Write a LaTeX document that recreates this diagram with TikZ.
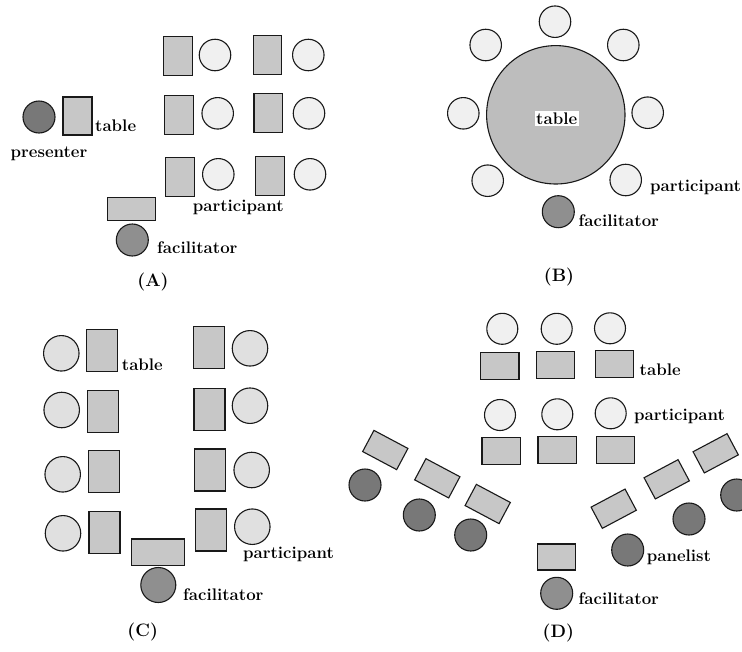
\documentclass[tikz,border=0pt]{standalone}
\definecolor{tablefill}{gray}{0.78}
\definecolor{partfill}{gray}{0.94}
\definecolor{partfillC}{gray}{0.88}
\definecolor{darkfill}{gray}{0.47}
\definecolor{facfill}{gray}{0.56}
\definecolor{bigfill}{gray}{0.74}
\definecolor{edge}{gray}{0.1}
\tikzset{
  tbl/.style={rectangle, draw=edge, line width=1.1pt, fill=tablefill, inner sep=0pt},
  tblA/.style={tbl, minimum width=28.7pt, minimum height=39pt},
  tblC/.style={tbl, minimum width=31pt, minimum height=42pt},
  tblD/.style={tbl, minimum width=38.5pt, minimum height=27pt},
  tblR/.style={tbl, minimum width=38.5pt, minimum height=24pt},
  seat/.style={circle, draw=edge, line width=1.1pt, inner sep=0pt},
  part/.style={seat, fill=partfill, minimum size=31.5pt},
  partC/.style={seat, fill=partfillC, minimum size=35.5pt},
  partD/.style={seat, fill=partfill, minimum size=31pt},
  dark/.style={seat, fill=darkfill, minimum size=32pt},
  fac/.style={seat, fill=facfill, minimum size=32pt},
  lbl/.style={font=\fontsize{16.8}{19}\selectfont\bfseries, inner sep=0pt},
  panelcap/.style={font=\fontsize{18}{21}\selectfont\bfseries, inner sep=0pt}
}
\begin{document}
\begin{tikzpicture}[x=1pt,y=-1pt]
\useasboundingbox[fill=white] (0,0) rectangle (742,651);

% ---------------- Panel A ----------------
\node[dark] (presenter) at (39,117) {};
\node[tbl, minimum width=29pt, minimum height=38pt] (presTable) at (77.5,116) {};
\node[lbl, anchor=west] (lblTableA) at (95,126) {table};
\node[lbl] (lblPresenter) at (49,154) {presenter};

\node[tblA] (a11) at (177.7,56.2) {};
\node[part] (pa11) at (215,55) {};
\node[tblA] (a12) at (267.5,54.8) {};
\node[part] (pa12) at (308.3,55) {};
\node[tblA] (a21) at (178.7,114.7) {};
\node[part] (pa21) at (217.7,113.3) {};
\node[tblA] (a22) at (268.3,113.2) {};
\node[part] (pa22) at (309,113.3) {};
\node[tblA] (a31) at (179.8,176.8) {};
\node[part] (pa31) at (218.3,174.3) {};
\node[tblA] (a32) at (269.7,175.7) {};
\node[part] (pa32) at (310,174.3) {};
\node[lbl] (lblPartA) at (238.3,207.3) {participant};

\node[tbl, minimum width=48pt, minimum height=23.4pt] (facTableA) at (131.3,209) {};
\node[fac] (facA) at (132.3,240) {};
\node[lbl, anchor=west] (lblFacA) at (157,248) {facilitator};
\node[panelcap] (capA) at (153,281.7) {(A)};

% ---------------- Panel B ----------------
\node[seat, fill=bigfill, minimum size=138.4pt] (bigTable) at (555.8,114.8) {};
\node[lbl, fill=white, inner sep=1.5pt] (lblTableB) at (556.7,118.3) {table};
\node[part] (pb1) at (555,21.7) {};
\node[part] (pb2) at (485.7,45) {};
\node[part] (pb3) at (623.3,45) {};
\node[part] (pb4) at (463.3,113.3) {};
\node[part] (pb5) at (647.7,112.7) {};
\node[part] (pb6) at (487.7,180.7) {};
\node[part] (pb7) at (625.7,180) {};
\node[fac] (facB) at (558.3,211.7) {};
\node[lbl, anchor=west] (lblPartB) at (650,187.3) {participant};
\node[lbl, anchor=west] (lblFacB) at (578.5,221) {facilitator};
\node[panelcap] (capB) at (559,276.7) {(B)};

% ---------------- Panel C ----------------
\node[partC] (pc1) at (61.3,353.3) {};
\node[partC] (pc2) at (61.7,410) {};
\node[partC] (pc3) at (62.7,474.3) {};
\node[partC] (pc4) at (63,533.3) {};
\node[tblC] (c1) at (102,350.3) {};
\node[tblC] (c2) at (102.8,411.3) {};
\node[tblC] (c3) at (103.8,471.3) {};
\node[tblC] (c4) at (104.5,532.5) {};
\node[lbl, anchor=west] (lblTableC) at (121.7,365) {table};
\node[tblC] (c5) at (208.7,347.8) {};
\node[tblC] (c6) at (209.5,409.5) {};
\node[tblC] (c7) at (210,470) {};
\node[tblC] (c8) at (211.2,530) {};
\node[partC] (pc5) at (250,348.3) {};
\node[partC] (pc6) at (250,405.7) {};
\node[partC] (pc7) at (251.7,470) {};
\node[partC] (pc8) at (252.3,526.7) {};
\node[lbl, anchor=west] (lblPartC) at (243,554.3) {participant};
\node[tbl, minimum width=52.6pt, minimum height=26.7pt] (facTableC) at (158,552.3) {};
\node[fac, minimum size=35pt] (facC) at (158.3,585) {};
\node[lbl, anchor=west] (lblFacC) at (183,595) {facilitator};
\node[panelcap] (capC) at (142.7,632) {(C)};

% ---------------- Panel D ----------------
\node[partD] (pd1) at (502.3,328.8) {};
\node[partD] (pd2) at (556.7,328.8) {};
\node[partD] (pd3) at (610,328.3) {};
\node[tblD] (d1) at (499.7,365.7) {};
\node[tblD] (d2) at (555.5,365) {};
\node[tblD] (d3) at (614.5,364) {};
\node[lbl, anchor=west] (lblTableD) at (639.5,369.3) {table};
\node[partD] (pd4) at (500,415) {};
\node[partD] (pd5) at (557.3,414.3) {};
\node[partD] (pd6) at (610.7,413.3) {};
\node[lbl, anchor=west] (lblPartD) at (634,416) {participant};
\node[tblD] (d4) at (501.2,451.2) {};
\node[tblD] (d5) at (557.2,450.3) {};
\node[tblD] (d6) at (615.3,450) {};

\node[tblR, rotate=-28] (dl1) at (385.3,450) {};
\node[tblR, rotate=-28] (dl2) at (437.3,478.3) {};
\node[tblR, rotate=-28] (dl3) at (487.7,504) {};
\node[dark] (pl1) at (365,485) {};
\node[dark] (pl2) at (419.3,515) {};
\node[dark] (pl3) at (470.7,535) {};

\node[tblR, rotate=28] (dr1) at (613.7,508.7) {};
\node[tblR, rotate=28] (dr2) at (666.7,479.3) {};
\node[tblR, rotate=28] (dr3) at (715.7,453.3) {};
\node[dark] (pr1) at (627.7,550) {};
\node[dark] (pr2) at (689,519) {};
\node[dark] (pr3) at (736.7,495) {};
\node[lbl, anchor=west] (lblPanel) at (646.7,557.3) {panelist};

\node[tbl, minimum width=38pt, minimum height=26pt] (facTableD) at (556.7,557) {};
\node[fac] (facD) at (556.7,593.3) {};
\node[lbl, anchor=west] (lblFacD) at (578.5,598.3) {facilitator};
\node[panelcap] (capD) at (558.3,633.3) {(D)};
\end{tikzpicture}
\end{document}
